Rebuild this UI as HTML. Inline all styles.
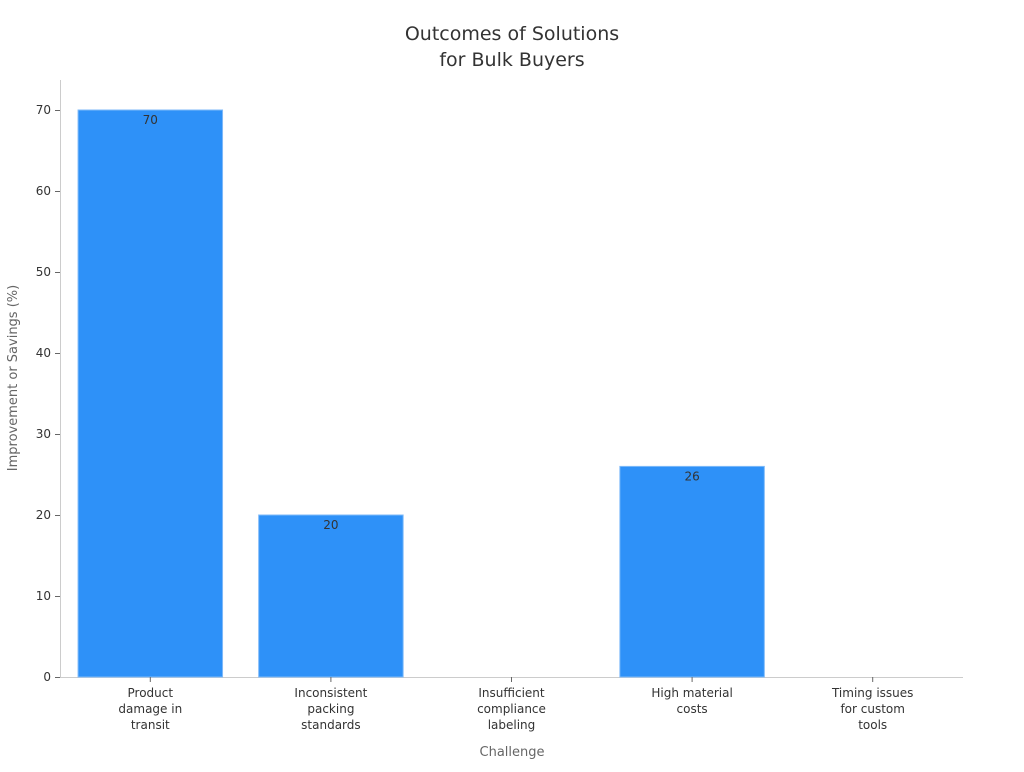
<!DOCTYPE html>
<html><head><meta charset="utf-8"><style>
body{margin:0;background:#fff;font-family:"DejaVu Sans","Liberation Sans",sans-serif;}
</style></head><body>
<svg width="1024" height="768" id="c" font-family="DejaVu Sans, Liberation Sans, sans-serif">
<text x="512" y="40" text-anchor="middle" font-size="19" fill="#333"><tspan x="512">Outcomes of Solutions</tspan><tspan x="512" dy="26">for Bulk Buyers</tspan></text>
<text transform="translate(17,378) rotate(-90)" text-anchor="middle" font-size="13" fill="#666">Improvement or Savings (%)</text>
<text x="512" y="756" text-anchor="middle" font-size="13" fill="#666">Challenge</text>
<line x1="60.5" y1="80" x2="60.5" y2="677" stroke="#ccc"/>
<line x1="60" y1="677.5" x2="963" y2="677.5" stroke="#ccc"/>
<g id="bars"></g>
</svg>
<script>
const categories=[["Product","damage in","transit"],["Inconsistent","packing","standards"],["Insufficient","compliance","labeling"],["High material","costs"],["Timing issues","for custom","tools"]];
const values=[70,20,0,26,0];
const yTicks=[0,10,20,30,40,50,60,70];
const ns="http://www.w3.org/2000/svg";
const svg=document.getElementById('c');
const x0=60,x1=963,yBase=677,yTop=110,yMax=70;
const y=v=>yBase-(yBase-yTop)*v/yMax;
const band=(x1-x0)/categories.length;
const xc=i=>x0+band*(i+0.5);
function mk(t,a){const e=document.createElementNS(ns,t);for(const k in a)e.setAttribute(k,a[k]);svg.appendChild(e);return e;}
yTicks.forEach(t=>{
 const l=mk('line',{x1:55,x2:60,y1:y(t)+0.5,y2:y(t)+0.5,stroke:'#666'});
 
 
 const tx=mk('text',{x:51,y:y(t)+4,'text-anchor':'end','font-size':12,fill:'#333'});
 tx.textContent=t;
 
 
});
categories.forEach((c,i)=>{
 const w=band*0.8,v=values[i];
 if(v>0){
  const r=mk('rect',{x:xc(i)-w/2,y:y(v),width:w,height:yBase-y(v),fill:'#2e91f8',stroke:'#7fbaf9','stroke-width':1});
  
  
  const lb=mk('text',{x:xc(i),y:y(v)+14,'text-anchor':'middle','font-size':12,fill:'#333'});
  lb.textContent=v;
  
  
 }
 const tk=mk('line',{x1:xc(i),x2:xc(i),y1:677,y2:682,stroke:'#666'});
 
 
 const t=mk('text',{x:xc(i),y:697,'text-anchor':'middle','font-size':12,fill:'#333'});
 
 
 c.forEach((ln,j)=>{const s=document.createElementNS(ns,'tspan');s.setAttribute('x',xc(i));s.setAttribute('dy',j?16:0);s.textContent=ln;t.appendChild(s);});
});
</script>
</body></html>
